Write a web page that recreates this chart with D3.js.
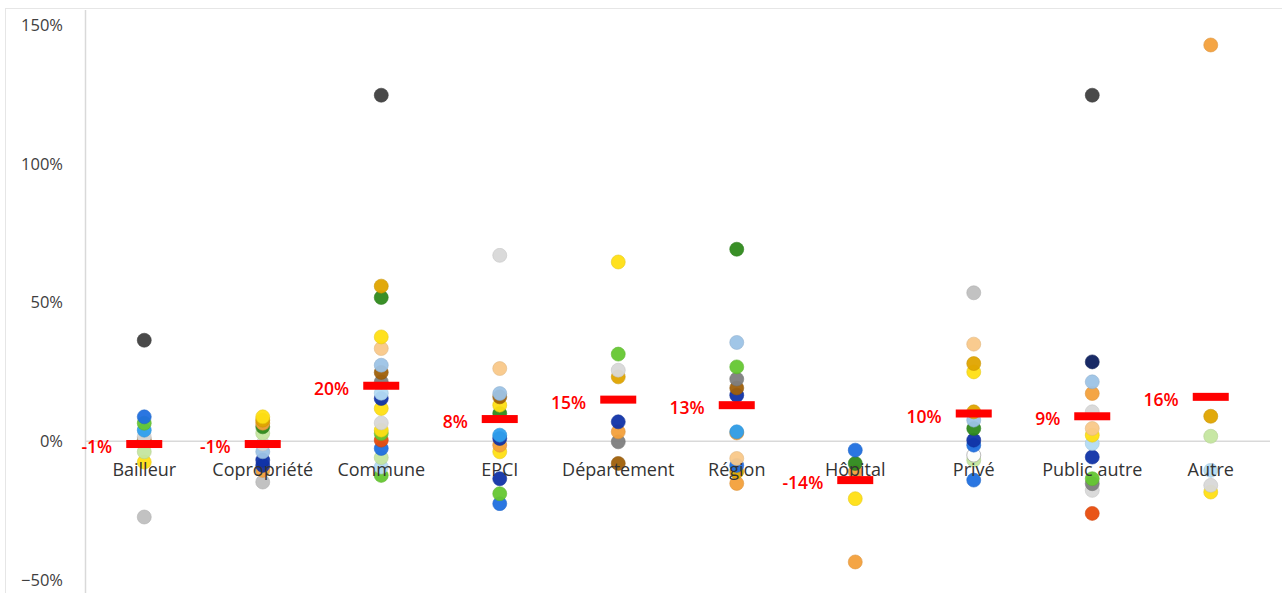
<!DOCTYPE html>
<html><head><meta charset="utf-8">
<script src="https://cdn.jsdelivr.net/npm/d3@7/dist/d3.min.js"></script>
<style>
html,body{margin:0;padding:0;background:#fff;}
svg{display:block;}
text{font-family:"Open Sans",sans-serif;}
</style></head>
<body><svg id="chart" width="1282" height="593"></svg>
<script>
// ---------- DATA ----------
const categories = ["Bailleur","Copropriété","Commune","EPCI","Département","Région","Hôpital","Privé","Public autre","Autre"];
const meanValues = [-0.01,-0.01,0.20,0.08,0.15,0.13,-0.14,0.10,0.09,0.16];
const meanLabels = ["-1%","-1%","20%","8%","15%","13%","-14%","10%","9%","16%"];
const yTickValues = [-0.5,0,0.5,1.0,1.5];

const valsBailleur    = [0.364,0.088,0.065,0.04,0.016,0.005,-0.038,-0.075,-0.273];
const valsCopropriete = [0.088,0.076,0.065,0.052,0.029,-0.01,-0.038,-0.068,-0.087,-0.105,-0.147];
const valsCommune     = [1.247,0.559,0.518,0.376,0.334,0.274,0.248,0.214,0.173,0.154,0.118,0.066,0.04,0.028,0.004,-0.026,-0.059,-0.093,-0.123];
const valsEPCI        = [0.67,0.262,0.172,0.16,0.13,0.10,0.022,0.01,-0.014,-0.038,-0.135,-0.189,-0.225];
const valsDepartement = [0.646,0.314,0.256,0.232,0.07,0.034,-0.002,-0.08];
const valsRegion      = [0.692,0.356,0.268,0.224,0.192,0.166,0.034,0.03,-0.062,-0.087,-0.11,-0.152];
const valsHopital     = [-0.032,-0.08,-0.11,-0.207,-0.435];
const valsPrive       = [0.535,0.35,0.28,0.25,0.106,0.076,0.046,0.004,-0.014,-0.05,-0.068,-0.14];
const valsPublicAutre = [1.247,0.286,0.214,0.172,0.106,0.046,0.022,-0.008,-0.057,-0.135,-0.153,-0.177,-0.26];
const valsAutre       = [1.428,0.09,0.018,-0.105,-0.159,-0.183];
const pointValues = [valsBailleur,valsCopropriete,valsCommune,valsEPCI,valsDepartement,valsRegion,valsHopital,valsPrive,valsPublicAutre,valsAutre];

// ---------- STYLES ----------
const C = {
  dgray:"#404040", lgray:"#bfbfbf", vlgray:"#d9d9d9", gray:"#7f7f7f",
  blue:"#1f6fe0", sky:"#2fa0ee", lblue:"#9dc3e6", pblue:"#b4dcf5",
  dblue:"#1033a8", navy:"#0c1f5e",
  lgreen:"#c5e6a0", lime:"#66c832", green:"#2f8a1c",
  yellow:"#ffe014", gold:"#e0a500", orange:"#f4a13c", peach:"#f9c98a",
  brown:"#a0600a", redor:"#e84c0c"
};
const pointColors = [
  [C.dgray,C.blue,C.lime,C.sky,C.vlgray,C.brown,C.lgreen,C.yellow,C.lgray],
  [C.yellow,C.gold,C.orange,C.green,C.lgreen,C.vlgray,C.lblue,C.dblue,C.dblue,C.orange,C.lgray],
  [C.dgray,C.gold,C.green,C.yellow,C.peach,C.lblue,C.brown,C.gray,C.pblue,C.dblue,C.yellow,C.vlgray,C.yellow,C.lime,C.redor,C.blue,C.lgreen,C.pblue,C.lime],
  [C.vlgray,C.peach,C.lblue,C.brown,C.yellow,C.green,C.sky,C.dblue,C.orange,C.yellow,C.dblue,C.lime,C.blue],
  [C.yellow,C.lime,C.vlgray,C.gold,C.dblue,C.orange,C.gray,C.brown],
  [C.green,C.lblue,C.lime,C.gray,C.brown,C.dblue,C.sky,C.orange,C.peach,C.blue,C.gold,C.orange],
  [C.blue,C.green,C.orange,C.yellow,C.orange],
  [C.lgray,C.peach,C.gold,C.yellow,C.gold,C.lblue,C.green,C.dblue,C.blue,"#ffffff",C.lgreen,C.blue],
  [C.dgray,C.navy,C.lblue,C.orange,C.vlgray,C.peach,C.yellow,C.pblue,C.dblue,C.lime,C.gray,C.vlgray,C.redor],
  [C.orange,C.gold,C.lgreen,C.pblue,C.vlgray,C.yellow]
];

// ---------- CHART ----------
const svg = d3.select("#chart");
const W = 1282, H = 593;
const plotLeft = 85, plotRight = 1270;

svg.append("rect").attr("x",5.5).attr("y",8.5).attr("width",1290).attr("height",600)
  .attr("fill","none").attr("stroke","#e6e6e6").attr("stroke-width",1);

const x = d3.scaleBand().domain(categories).range([plotLeft, plotRight]);
const y = d3.scaleLinear().domain([-0.5,1.5]).range([580,25]);

// y axis
const yAxis = d3.axisLeft(y).tickValues(yTickValues).tickFormat(d3.format(".0%")).tickSize(0).tickPadding(22);
const gy = svg.append("g").attr("transform",`translate(${plotLeft},0)`).call(yAxis);
gy.select(".domain").remove();
gy.selectAll("text").attr("font-size",16.5).attr("fill","#404040").attr("font-family","Open Sans");
svg.append("line").attr("x1",plotLeft+0.5).attr("x2",plotLeft+0.5).attr("y1",10).attr("y2",H)
  .attr("stroke","#d9d9d9").attr("stroke-width",1.5);

// zero line
svg.append("line").attr("x1",plotLeft).attr("x2",plotRight).attr("y1",y(0)).attr("y2",y(0))
  .attr("stroke","#d9d9d9").attr("stroke-width",1.5);

// points
categories.forEach((cat,i)=>{
  const cx = x(cat)+x.bandwidth()/2;
  const g = svg.append("g");
  const pts = pointValues[i].map((v,j)=>({v, c:pointColors[i][j]}));
  g.selectAll("circle").data(pts.slice().reverse()).join("circle")
    .attr("cx",cx).attr("cy",d=>y(d.v)).attr("r",7)
    .attr("fill",d=>d.c).attr("stroke",d=>d.c==="#ffffff"?"#888":d3.color(d.c).darker(0.3))
    .attr("stroke-width",0.6).attr("opacity",0.95);
});

// category labels
const gx = svg.append("g").attr("transform",`translate(0,${y(0)})`)
  .call(d3.axisBottom(x).tickSize(0).tickPadding(22));
gx.select(".domain").remove();
gx.selectAll("text").attr("font-size",18).attr("fill","#333").attr("font-family","Open Sans");

// means
categories.forEach((cat,i)=>{
  const cx = x(cat)+x.bandwidth()/2;
  svg.append("rect").attr("x",cx-18).attr("y",y(meanValues[i])-4).attr("width",36).attr("height",8).attr("fill","#ff0000");
  svg.append("text").attr("x",cx-32).attr("y",y(meanValues[i])+3).attr("dy","0.35em")
    .attr("text-anchor","end").attr("font-size",17.5).attr("font-weight",600).attr("fill","#ff0000")
    .text(meanLabels[i]);
});
</script></body></html>
